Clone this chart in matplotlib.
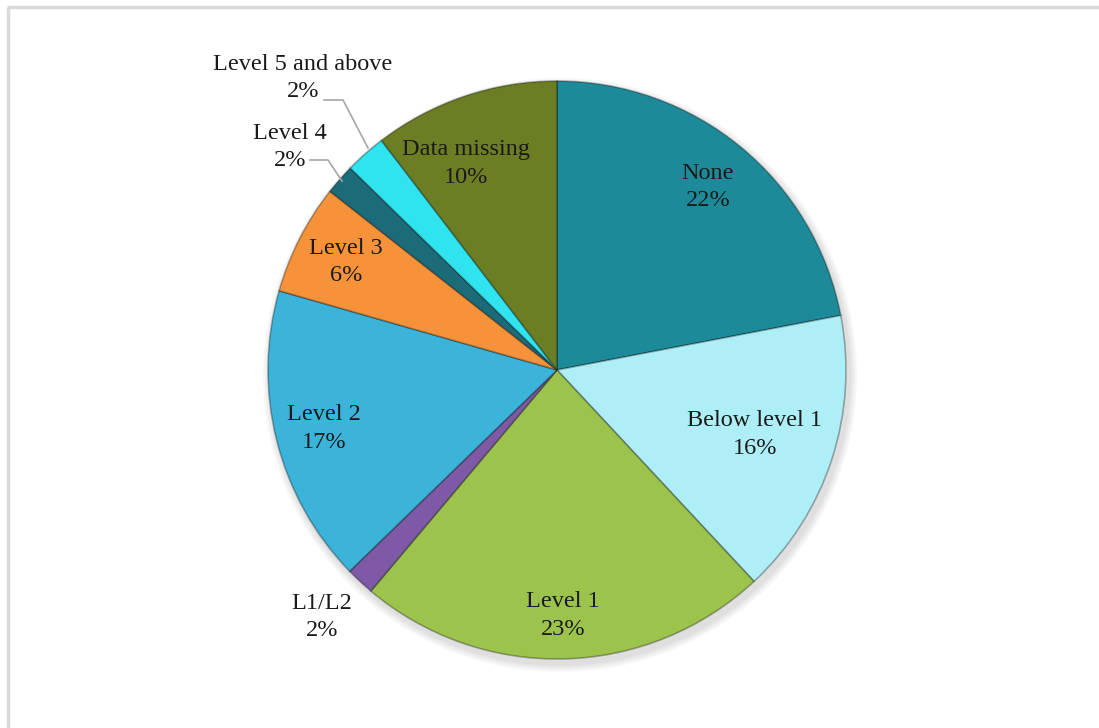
import numpy as np
import matplotlib
matplotlib.use("Agg")
import matplotlib.pyplot as plt
from matplotlib.patches import Circle

labels = ["None", "Below level 1", "Level 1", "L1/L2", "Level 2",
          "Level 3", "Level 4", "Level 5 and above", "Data missing"]
values = [22.0, 16.1, 23.1, 1.6, 16.7, 6.2, 1.7, 2.3, 10.4]
pct_text = ["22%", "16%", "23%", "2%", "17%", "6%", "2%", "2%", "10%"]
colors = ["#1d8a9a", "#aeeef6", "#9cc44c", "#7e5aa6", "#3cb3d9",
          "#f6923a", "#1c6b78", "#2fe3ef", "#6b7e24"]

W, H = 1099, 728
fig = plt.figure(figsize=(W / 100, H / 100), dpi=100)
ax = fig.add_axes([0, 0, 1, 1])

cx, cy, R = 557, H - 370, 289

# soft shadow
for i in range(4):
    ax.add_patch(Circle((cx + 3, cy - 5), R + 2 + i * 2, color="black", alpha=0.03, lw=0, zorder=0))

wedges, _ = ax.pie(values, colors=colors, startangle=90, counterclock=False,
                   center=(cx, cy), radius=R,
                   wedgeprops=dict(edgecolor=(0, 0, 0, 0.3), linewidth=1.2))
for w in wedges:
    w.set_zorder(1)

ax.set_xlim(0, W)
ax.set_ylim(0, H)
ax.axis("off")

font = dict(family="Liberation Serif", fontsize=17.5, color="#1a1a1a",
            ha="center", va="center", linespacing=1.4, zorder=5)

# labels inside slices: radius fraction per slice
inside = {0: 0.82, 1: 0.72, 2: 0.85, 4: 0.83, 5: 0.82, 8: 0.78}
for i, frac in inside.items():
    w = wedges[i]
    mid = np.deg2rad((w.theta1 + w.theta2) / 2)
    if i == 8:
        mid += np.deg2rad(5)
    x = cx + frac * R * np.cos(mid)
    y = cy + frac * R * np.sin(mid)
    ax.text(x, y, labels[i] + "\n" + pct_text[i], **font)

# outside labels
ax.text(322, H - 617, labels[3] + "\n" + pct_text[3], **font)
ax.text(290, H - 147, labels[6] + "\n" + pct_text[6], **font)
ax.text(303, H - 78, labels[7] + "\n" + pct_text[7], **font)

lc = "#a6a6a6"
ax.plot([310, 328, 342], [H - 160, H - 160, H - 181], color=lc, lw=1.2, zorder=4)
ax.plot([324, 343, 368], [H - 100, H - 100, H - 148], color=lc, lw=1.2, zorder=4)

# frame lines
ax.plot([7, W], [H - 7, H - 7], color="#dadada", lw=2.5, solid_capstyle="butt")
ax.plot([7.5, 7.5], [0, H - 7], color="#dadada", lw=2.5, solid_capstyle="butt")

fig.savefig("out.png", dpi=100)
